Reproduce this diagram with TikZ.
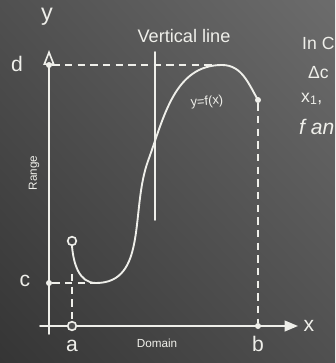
\documentclass[tikz,border=0pt]{standalone}
\usepackage{fontspec}
\setmainfont{Liberation Sans}
\usetikzlibrary{arrows.meta,calc,shadings}
\definecolor{Chalk}{HTML}{EFEFEA}
\definecolor{BoardDark}{HTML}{353535}
\definecolor{BoardMid}{HTML}{505050}
\definecolor{BoardLight}{HTML}{6C6C6C}

\begin{document}
\begin{tikzpicture}[
  x=0.3mm, y=-0.3mm,
  every node/.style={text=Chalk, inner sep=1pt},
  chalk/.style={draw=Chalk, line width=1.6pt, line cap=round},
  guide/.style={draw=Chalk, line width=1.6pt, dash pattern=on 2.2mm off 1.6mm},
  yarr/.style={chalk, -{Triangle[open, length=4.5mm, width=3.4mm, line width=1.4pt]}},
  xarr/.style={chalk, -{Triangle[length=4mm, width=3.2mm]}},
  dotpt/.style={circle, fill=Chalk, minimum size=1.8mm, inner sep=0pt},
  ringpt/.style={circle, draw=Chalk, line width=1.4pt, minimum size=2.6mm, inner sep=0pt},
  lbl/.style={font=\fontsize{18}{18}\selectfont},
  note/.style={font=\fontsize{15}{15}\selectfont, anchor=west, inner sep=0pt},
  sml/.style={font=\fontsize{10}{10}\selectfont}
]

%% Board -- dark lower left, lighter upper right.
\useasboundingbox (0,0) rectangle (335,363);
\clip (0,0) rectangle (335,363);
\shade[lower left=BoardDark, upper right=BoardLight, upper left=BoardMid, lower right=BoardMid] (0,0) rectangle (335,363);

%% Axes
\coordinate (ytop) at (49,50);
\coordinate (ybot) at (49,334);
\coordinate (xleft) at (40,326);
\coordinate (xtip) at (298,326);
\draw[yarr] (ybot) -- (ytop);
\draw[xarr] (xleft) -- (xtip);

%% Marked points
\node[dotpt] (dpt) at (49,65) {};
\node[dotpt] (cpt) at (49,283) {};
\node[ringpt, fill=BoardMid] (apt) at (72,326) {};
\node[dotpt] (bpt) at (258,326) {};
\node[ringpt] (start) at (72,241) {};
\node[dotpt] (fend) at (258,100) {};
\coordinate (fmin) at (96,283);
\coordinate (fmid) at (148,161);
\coordinate (fmax) at (222,65);
\coordinate (amark) at (72,274);

%% Dashed guides
\draw[guide] (dpt) -- (fmax);
\draw[guide] (cpt) -- (fmin);
\draw[guide] (amark) -- (apt);
\draw[guide] (fend) -- (bpt);

%% Vertical line test
\coordinate (vtop) at (155,52);
\coordinate (vbot) at (155,220);
\draw[chalk] (vtop) -- (vbot);

%% The function
\draw[chalk] (start.south) to[out=-85, in=180] (fmin) to[out=0, in=-110] (fmid)
  to[out=70, in=180] (fmax) to[out=0, in=120] (fend.center);

%% Labels
\node[font=\fontsize{20}{20}\selectfont] (ylab) at (47,17) {y};
\node[lbl] (dlab) at (17,64) {d};
\node[lbl] (clab) at (25,281) {c};
\node[lbl] (alab) at (72,346) {a};
\node[lbl] (blab) at (258,344) {b};
\node[lbl] (xlab) at (309,326) {x};
\node[font=\fontsize{15.5}{15.5}\selectfont] (vlab) at (184,36) {Vertical line};
\node[font=\fontsize{11}{11}\selectfont, rotate=5] (flab) at (207,102) {y=f(x)};
\node[sml, rotate=90] (rlab) at (34,173) {Range};
\node[sml] (dmlab) at (157,343) {Domain};

%% Notes running off the board
\node[note] (note1) at (302,43) {In C};
\node[note] (note2) at (308,73) {Δc};
\node[note] (note3) at (301,99) {x\textsubscript{1},};
\node[note, font=\fontsize{18}{18}\selectfont\itshape] (note4) at (299,127) {f an};
\end{tikzpicture}
\end{document}
